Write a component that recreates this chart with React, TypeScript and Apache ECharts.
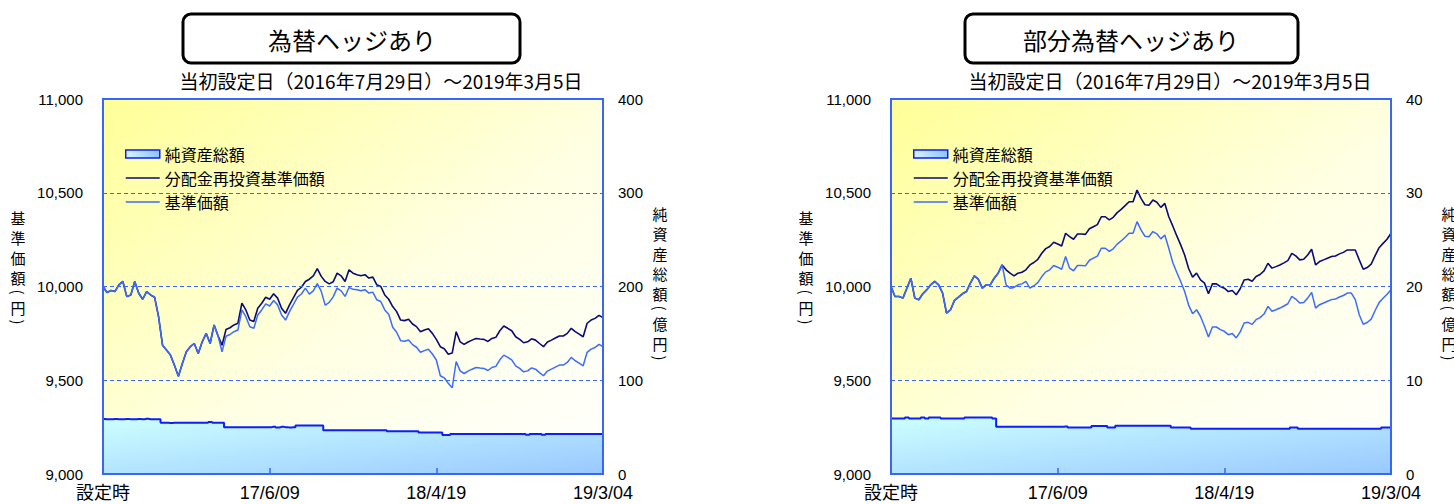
import React, { useEffect, useRef } from 'react';
import * as echarts from 'echarts';

// ---------- data ----------
const xTickLabels = ['設定時', '17/6/09', '18/4/19', '19/3/04'];
const seriesNames = ['純資産総額', '分配金再投資基準価額', '基準価額'];
const titles = ['為替ヘッジあり', '部分為替ヘッジあり'];
const subtitle = '当初設定日（2016年7月29日）～2019年3月5日';
const leftAxisName = ['基', '準', '価', '額', '(', '円', ')'];
const rightAxisName = ['純', '資', '産', '総', '額', '(', '億', '円', ')'];

// 為替ヘッジあり : 分配金再投資基準価額 (円)
const hedgedReinvest = [
  10000, 9968, 9979, 9973, 10009, 10027, 9946, 9955, 10027, 9964,
  9932, 9973, 9955, 9943, 9839, 9687, 9661, 9634, 9580, 9521,
  9589, 9652, 9679, 9696, 9643, 9705, 9750, 9696, 9795, 9736,
  9687, 9771, 9780, 9795, 9804, 9911, 9875, 9821, 9813, 9884,
  9911, 9943, 9932, 9961, 9938, 9884, 9857, 9902, 9941, 9979,
  9996, 10027, 10039, 10057, 10095, 10054, 10027, 10014, 10025, 10071,
  10057, 10027, 10089, 10071, 10063, 10057, 10063, 10045, 10050, 10009,
  10000, 9955, 9932, 9893, 9866, 9821, 9818, 9825, 9800, 9786,
  9759, 9768, 9775, 9750, 9718, 9679, 9668, 9639, 9645, 9759,
  9705, 9691, 9704, 9714, 9723, 9720, 9718, 9707, 9723, 9729,
  9764, 9789, 9777, 9764, 9732, 9718, 9700, 9705, 9721, 9714,
  9696, 9679, 9704, 9714, 9725, 9736, 9736, 9750, 9777, 9759,
  9746, 9732, 9804, 9821, 9830, 9846, 9834,
];

// 為替ヘッジあり : 基準価額 (円)
const hedgedNav = [
  10000, 9968, 9979, 9973, 10009, 10027, 9946, 9955, 10027, 9964,
  9932, 9973, 9955, 9943, 9839, 9687, 9661, 9634, 9580, 9521,
  9589, 9652, 9679, 9696, 9643, 9705, 9750, 9696, 9795, 9736,
  9651, 9735, 9744, 9759, 9768, 9875, 9839, 9785, 9777, 9848,
  9875, 9907, 9896, 9925, 9902, 9848, 9821, 9866, 9905, 9943,
  9960, 9991, 9959, 9977, 10015, 9974, 9900, 9915, 9945, 9991,
  9977, 9947, 9995, 9985, 9983, 9977, 9983, 9965, 9970, 9929,
  9920, 9875, 9852, 9783, 9756, 9711, 9708, 9715, 9690, 9676,
  9649, 9658, 9665, 9640, 9608, 9524, 9513, 9484, 9460, 9600,
  9550, 9536, 9549, 9559, 9568, 9565, 9563, 9552, 9568, 9574,
  9609, 9634, 9622, 9609, 9577, 9563, 9545, 9550, 9566, 9559,
  9541, 9524, 9549, 9559, 9570, 9581, 9581, 9595, 9622, 9604,
  9591, 9577, 9649, 9666, 9675, 9691, 9679,
];

// 為替ヘッジあり : 純資産総額 (億円)
const hedgedAssets = [
  58.6, 58.3, 58.5, 58.7, 58.4, 58.5, 58.8, 58.5, 58.3, 58.6,
  58.5, 58.9, 58.4, 58.5, 58.5, 54.6, 54.6, 54.4, 54.6, 54.6,
  54.6, 54.6, 54.6, 54.6, 54.6, 54.6, 54.6, 55.5, 54.6, 54.6,
  54.6, 50.0, 50.0, 50.0, 50.0, 50.0, 50.0, 50.0, 50.0, 50.0,
  50.0, 50.0, 50.0, 50.4, 49.6, 50.3, 50.0, 49.7, 50.0, 51.8,
  51.8, 51.8, 51.8, 51.8, 51.8, 51.8, 46.8, 46.8, 46.8, 46.8,
  46.8, 46.8, 46.8, 46.8, 46.8, 46.8, 46.8, 46.8, 46.8, 46.8,
  46.8, 46.8, 45.7, 45.7, 45.7, 45.7, 45.7, 45.7, 45.7, 45.7,
  44.4, 44.4, 44.4, 44.4, 44.4, 44.4, 41.5, 41.5, 42.6, 42.6,
  42.6, 42.6, 42.6, 42.6, 42.6, 42.6, 42.6, 42.6, 42.6, 42.6,
  42.6, 42.6, 42.6, 42.6, 42.6, 42.6, 42.6, 41.8, 42.6, 42.6,
  42.6, 41.8, 42.6, 42.6, 42.6, 42.6, 42.6, 42.6, 42.6, 42.6,
  42.6, 42.6, 42.6, 42.6, 42.6, 42.6, 42.6,
];

// 部分為替ヘッジあり : 分配金再投資基準価額 (円)
const partialReinvest = [
  10000, 9947, 9947, 9938, 9991, 10044, 9938, 9929, 9961, 9982,
  10009, 10027, 10009, 9965, 9858, 9876, 9926, 9943, 9961, 9973,
  10018, 10057, 10039, 9991, 10009, 10009, 10044, 10071, 10115, 10089,
  10071, 10057, 10071, 10076, 10089, 10115, 10128, 10145, 10177, 10202,
  10213, 10236, 10227, 10216, 10284, 10266, 10252, 10280, 10280, 10278,
  10308, 10319, 10330, 10372, 10372, 10355, 10369, 10394, 10411, 10431,
  10452, 10452, 10514, 10470, 10436, 10433, 10461, 10449, 10422, 10443,
  10372, 10323, 10271, 10222, 10168, 10096, 10050, 10071, 10035, 10018,
  9961, 10014, 10014, 10000, 9991, 9973, 9979, 9956, 9988, 10035,
  10039, 10028, 10053, 10064, 10083, 10124, 10098, 10106, 10115, 10126,
  10138, 10177, 10163, 10142, 10145, 10168, 10199, 10115, 10133, 10142,
  10151, 10160, 10163, 10174, 10182, 10195, 10195, 10195, 10142, 10092,
  10101, 10119, 10165, 10207, 10230, 10252, 10284,
];

// 部分為替ヘッジあり : 基準価額 (円)
const partialNav = [
  10000, 9947, 9947, 9938, 9991, 10044, 9938, 9929, 9961, 9982,
  10009, 10027, 10009, 9965, 9858, 9876, 9926, 9943, 9961, 9973,
  10018, 10057, 10039, 9991, 10009, 10009, 10044, 10071, 10115, 10009,
  9991, 9995, 10009, 10014, 10027, 9991, 10004, 10021, 10053, 10078,
  10089, 10112, 10103, 10092, 10160, 10098, 10084, 10112, 10112, 10110,
  10140, 10151, 10162, 10204, 10204, 10187, 10201, 10226, 10243, 10263,
  10284, 10284, 10346, 10302, 10268, 10265, 10293, 10281, 10254, 10275,
  10204, 10128, 10076, 10027, 9973, 9901, 9855, 9876, 9840, 9788,
  9731, 9784, 9784, 9770, 9761, 9743, 9749, 9726, 9758, 9805,
  9809, 9798, 9823, 9834, 9853, 9894, 9868, 9876, 9885, 9896,
  9908, 9947, 9933, 9912, 9915, 9938, 9969, 9885, 9903, 9912,
  9921, 9930, 9933, 9944, 9952, 9965, 9965, 9930, 9849, 9799,
  9808, 9826, 9872, 9914, 9937, 9959, 9982,
];

// 部分為替ヘッジあり : 純資産総額 (億円)
const partialAssets = [
  5.93, 5.93, 5.93, 5.93, 6.03, 5.93, 5.93, 5.93, 6.03, 5.93,
  6.03, 6.03, 6.03, 5.93, 5.93, 5.93, 5.93, 5.93, 5.93, 6.03,
  6.03, 6.03, 6.03, 6.03, 6.03, 6.03, 5.93, 5.03, 5.03, 5.03,
  5.03, 5.03, 5.03, 5.03, 5.03, 5.03, 5.03, 5.03, 5.03, 5.03,
  5.03, 5.03, 5.03, 5.03, 5.06, 4.97, 4.97, 4.97, 4.97, 4.97,
  4.97, 5.11, 5.11, 5.11, 5.11, 4.97, 4.97, 5.14, 5.14, 5.14,
  5.14, 5.14, 5.14, 5.14, 5.14, 5.14, 5.14, 5.14, 5.14, 5.14,
  5.14, 4.97, 4.97, 4.97, 4.97, 4.97, 4.82, 4.82, 4.82, 4.82,
  4.82, 4.82, 4.82, 4.82, 4.82, 4.82, 4.82, 4.82, 4.82, 4.82,
  4.82, 4.82, 4.82, 4.82, 4.82, 4.82, 4.82, 4.82, 4.82, 4.82,
  4.82, 4.97, 4.97, 4.82, 4.82, 4.82, 4.82, 4.82, 4.82, 4.82,
  4.82, 4.82, 4.82, 4.82, 4.82, 4.82, 4.82, 4.82, 4.82, 4.82,
  4.82, 4.82, 4.82, 4.82, 4.97, 4.97, 4.97,
];

// ---------- styling ----------
const BLUE = '#3A66F5';
const NAVY = '#0A0A78';
const NAV_BLUE = '#3D6BFF';
const ASSET_LINE = '#0A1EFF';
const CJK = "'Noto Sans CJK JP', sans-serif";
const NUM = "'Liberation Sans', 'Noto Sans CJK JP', sans-serif";
const X_STEP = 42;
const LINE_ICON = 'path://M0,0H100V5H0Z';

const panels = [
  { left: 103, reinvest: hedgedReinvest, nav: hedgedNav, assets: hedgedAssets, assetsMax: 400, assetsInterval: 100, title: titles[0], box: [183, 337], titleX: 352, subX: 381, nameL: 18, nameR: 660 },
  { left: 891, reinvest: partialReinvest, nav: partialNav, assets: partialAssets, assetsMax: 40, assetsInterval: 10, title: titles[1], box: [965, 333], titleX: 1131, subX: 1170, nameL: 806, nameR: 1449 },
];

const pairs = (arr: number[]) => arr.map((v, i) => [i, v]);

function verticalName(chars: string[], cx: number, startY: number) {
  const els: any[] = [];
  let y = startY;
  let prevParen = false;
  chars.forEach((c, k) => {
    const paren = c === '(' || c === ')';
    if (k > 0) y += paren || prevParen ? 15 : 20;
    els.push({
      type: 'text',
      x: cx,
      y,
      rotation: paren ? -Math.PI / 2 : 0,
      style: { text: c, fill: '#000', fontSize: 15, lineHeight: 15, fontFamily: CJK, align: 'center', verticalAlign: 'middle' },
    });
    prevParen = paren;
  });
  return els;
}

function buildOption() {
  const plotBg = () =>
    new echarts.graphic.LinearGradient(0, 0, 1, 1, [
      { offset: 0, color: '#FFFF98' },
      { offset: 0.55, color: '#FFFFE4' },
      { offset: 1, color: '#FFFFFF' },
    ]);
  const areaFill = () =>
    new echarts.graphic.LinearGradient(0, 0, 1, 1, [
      { offset: 0, color: '#CCFFFF' },
      { offset: 1, color: '#99C8FF' },
    ]);

  const grid: any[] = [];
  const xAxis: any[] = [];
  const yAxis: any[] = [];
  const series: any[] = [];
  const legend: any[] = [];
  const graphic: any[] = [];

  panels.forEach((p, g) => {
    grid.push({ left: p.left, top: 99, width: 500, height: 375, show: true, backgroundColor: plotBg(), borderColor: BLUE, borderWidth: 2 });
    xAxis.push({
      type: 'value', gridIndex: g, min: 0, max: 126, interval: X_STEP, z: 5,
      axisLine: { show: true, lineStyle: { color: BLUE, width: 2 } },
      axisTick: { show: true, inside: true, length: 6, lineStyle: { color: BLUE, width: 1.5 } },
      axisLabel: { margin: 10, fontSize: 18, color: '#000', fontFamily: NUM, formatter: (v: number) => xTickLabels[Math.round(v / X_STEP)] ?? '' },
      splitLine: { show: false },
    });
    yAxis.push({
      type: 'value', gridIndex: g, min: 9000, max: 11000, interval: 500, position: 'left', z: 5,
      axisLine: { show: true, lineStyle: { color: BLUE, width: 2 } },
      axisTick: { show: false },
      axisLabel: { margin: 20, fontSize: 15, color: '#000', fontFamily: NUM, formatter: (v: number) => v.toLocaleString('en-US') },
      splitLine: { show: true, lineStyle: { color: BLUE, width: 1, type: [4, 3] } },
    });
    yAxis.push({
      type: 'value', gridIndex: g, min: 0, max: p.assetsMax, interval: p.assetsInterval, position: 'right', z: 5,
      axisLine: { show: true, lineStyle: { color: BLUE, width: 2 } },
      axisTick: { show: false },
      axisLabel: { margin: 15, fontSize: 15, color: '#000', fontFamily: NUM },
      splitLine: { show: false },
    });
    series.push({
      name: seriesNames[0], type: 'line', xAxisIndex: g, yAxisIndex: 2 * g + 1, data: pairs(p.assets),
      step: 'middle', symbol: 'none', z: 2,
      lineStyle: { color: ASSET_LINE, width: 2 }, itemStyle: { color: ASSET_LINE },
      areaStyle: { color: areaFill(), opacity: 1 },
    });
    series.push({
      name: seriesNames[1], type: 'line', xAxisIndex: g, yAxisIndex: 2 * g, data: pairs(p.reinvest),
      symbol: 'none', z: 3, lineStyle: { color: NAVY, width: 1.6 }, itemStyle: { color: NAVY },
    });
    series.push({
      name: seriesNames[2], type: 'line', xAxisIndex: g, yAxisIndex: 2 * g, data: pairs(p.nav),
      symbol: 'none', z: 4, lineStyle: { color: NAV_BLUE, width: 1.5 }, itemStyle: { color: NAV_BLUE },
    });
    legend.push({
      left: p.left + 22, top: 146, orient: 'vertical', padding: 0, itemGap: 8, itemWidth: 34, itemHeight: 8,
      selectedMode: false,
      textStyle: { fontSize: 16, color: '#000', fontFamily: CJK },
      data: [
        {
          name: seriesNames[0], icon: 'rect',
          itemStyle: {
            color: new echarts.graphic.LinearGradient(0, 0, 1, 0, [
              { offset: 0, color: '#D8F4FF' },
              { offset: 1, color: '#8CC4FF' },
            ]),
            borderColor: ASSET_LINE, borderWidth: 1.5,
          },
        },
        { name: seriesNames[1], icon: LINE_ICON, itemStyle: { color: NAVY, borderWidth: 0 } },
        { name: seriesNames[2], icon: LINE_ICON, itemStyle: { color: NAV_BLUE, borderWidth: 0 } },
      ],
    });

    graphic.push({
      type: 'rect', shape: { x: p.box[0], y: 14, width: p.box[1], height: 49, r: 8 },
      style: { fill: '#fff', stroke: '#000', lineWidth: 3 },
    });
    graphic.push({
      type: 'text', x: p.titleX, y: 39,
      style: { text: p.title, fill: '#000', fontSize: 24, fontFamily: CJK, align: 'center', verticalAlign: 'middle' },
    });
    graphic.push({
      type: 'text', x: p.subX, y: 80,
      style: { text: subtitle, fill: '#000', fontSize: 19, fontFamily: CJK, align: 'center', verticalAlign: 'middle' },
    });
    graphic.push(...verticalName(leftAxisName, p.nameL, 217));
    graphic.push(...verticalName(rightAxisName, p.nameR, 213));
  });

  return { animation: false, grid, xAxis, yAxis, series, legend, graphic };
}

export default function App() {
  const ref = useRef<HTMLDivElement>(null);
  useEffect(() => {
    if (!ref.current) return;
    const chart = echarts.init(ref.current, undefined, { renderer: 'svg' });
    chart.setOption(buildOption() as any);
    return () => chart.dispose();
  }, []);
  return (
    <div
      ref={ref}
      style={{ position: 'fixed', left: 0, top: 0, width: 1454, height: 504, background: '#fff' }}
    />
  );
}
